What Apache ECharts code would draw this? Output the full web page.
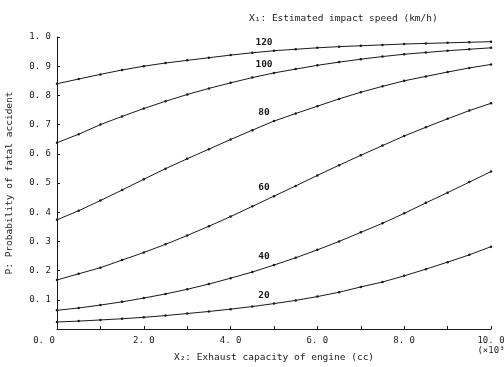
<!DOCTYPE html>
<html>
<head>
<meta charset="utf-8">
<script src="https://cdn.jsdelivr.net/npm/echarts@6/dist/echarts.min.js"></script>
<style>
html,body{margin:0;padding:0;background:#fff;}
#chart{width:504px;height:367px;}
</style>
</head>
<body>
<div id="chart"></div>
<script>
// Engine exhaust capacity (x 10^3 cc)
const xValues = [0,0.5,1,1.5,2,2.5,3,3.5,4,4.5,5,5.5,6,6.5,7,7.5,8,8.5,9,9.5,10];
// Estimated impact speed (km/h) for each curve
const speedNames = ['120','100','80','60','40','20'];
const p120 = [0.840,0.856,0.872,0.887,0.900,0.911,0.920,0.929,0.938,0.946,0.953,0.958,0.963,0.967,0.970,0.973,0.976,0.978,0.980,0.982,0.984];
const p100 = [0.638,0.667,0.700,0.728,0.755,0.780,0.803,0.824,0.843,0.861,0.877,0.890,0.903,0.914,0.924,0.933,0.941,0.947,0.953,0.958,0.963];
const p80  = [0.374,0.405,0.440,0.476,0.513,0.549,0.583,0.616,0.649,0.681,0.712,0.738,0.763,0.788,0.811,0.831,0.850,0.865,0.880,0.894,0.906];
const p60  = [0.168,0.189,0.210,0.236,0.262,0.290,0.320,0.352,0.385,0.420,0.455,0.490,0.526,0.561,0.595,0.628,0.661,0.691,0.720,0.748,0.773];
const p40  = [0.064,0.072,0.082,0.093,0.106,0.120,0.136,0.154,0.174,0.195,0.219,0.244,0.271,0.300,0.331,0.362,0.396,0.432,0.467,0.503,0.539];
const p20  = [0.024,0.027,0.031,0.035,0.040,0.046,0.053,0.060,0.068,0.077,0.087,0.098,0.111,0.126,0.144,0.161,0.182,0.205,0.229,0.254,0.282];
const curves = [p120,p100,p80,p60,p40,p20];
// tick labels
const xTickLabels = {0:'{z|0. 0}',2:'2. 0',4:'4. 0',6:'6. 0',8:'8. 0',10:'10. 0\n(×10³'};
const yTickLabels = ['','0. 1','0. 2','0. 3','0. 4','0. 5','0. 6','0. 7','0. 8','0. 9','1. 0'];
const xTitle = 'X₂: Exhaust capacity of engine (cc)';
const yTitle = 'P: Probability of fatal accident';
const topTitle = 'X₁: Estimated impact speed (km/h)';
const labelIndex = 10;

const FONT = 'DejaVu Sans Mono';
const INK = '#1a1a1a';

const series = curves.map((vals, si) => ({
  type: 'line',
  name: speedNames[si],
  silent: true,
  symbol: 'circle',
  symbolSize: 2.5,
  smooth: false,
  itemStyle: {color: INK},
  lineStyle: {color: INK, width: 1},
  data: vals.map((v, i) => {
    if (i === labelIndex) {
      return {value: [xValues[i], v], label: {
        show: true, formatter: speedNames[si], position: 'top', offset: [-10, 3],
        fontFamily: FONT, fontSize: 9.5, color: INK, fontWeight: 'bold'
      }};
    }
    return [xValues[i], v];
  })
}));

const chart = echarts.init(document.getElementById('chart'), null, {renderer: 'canvas'});
chart.setOption({
  animation: false,
  backgroundColor: '#fff',
  title: {
    text: topTitle,
    left: 244, top: 9,
    textStyle: {fontFamily: FONT, fontSize: 9.5, color: INK, fontWeight: 'normal'}
  },
  grid: {left: 57, right: 13, top: 37, bottom: 38, containLabel: false, outerBoundsMode: 'none'},
  xAxis: {
    type: 'value', min: 0, max: 10, interval: 1,
    name: xTitle, nameLocation: 'middle', nameGap: 24, nameMoveOverlap: false,
    nameTextStyle: {fontFamily: FONT, fontSize: 9.5, color: INK},
    axisLine: {show: true, lineStyle: {color: INK, width: 1}},
    axisTick: {show: true, inside: true, length: 3, lineStyle: {color: INK}},
    axisLabel: {
      fontFamily: FONT, fontSize: 9, color: INK, margin: 7, lineHeight: 10,
      showMinLabel: true, showMaxLabel: true, hideOverlap: false,
      formatter: v => xTickLabels[v] !== undefined ? xTickLabels[v] : '',
      align: 'center',
      rich: {z: {fontFamily: FONT, fontSize: 9, color: INK, padding: [0, 26, 0, 0]}}
    },
    splitLine: {show: false}
  },
  yAxis: {
    type: 'value', min: 0, max: 1, interval: 0.1,
    name: yTitle, nameLocation: 'middle', nameGap: 42, nameMoveOverlap: false,
    nameTextStyle: {fontFamily: FONT, fontSize: 9.5, color: INK},
    axisLine: {show: true, lineStyle: {color: INK, width: 1}},
    axisTick: {show: true, inside: true, length: 3, lineStyle: {color: INK}},
    axisLabel: {
      fontFamily: FONT, fontSize: 9, color: INK, margin: 6,
      formatter: v => yTickLabels[Math.round(v * 10)]
    },
    splitLine: {show: false}
  },
  series: series
});
</script>
</body>
</html>
